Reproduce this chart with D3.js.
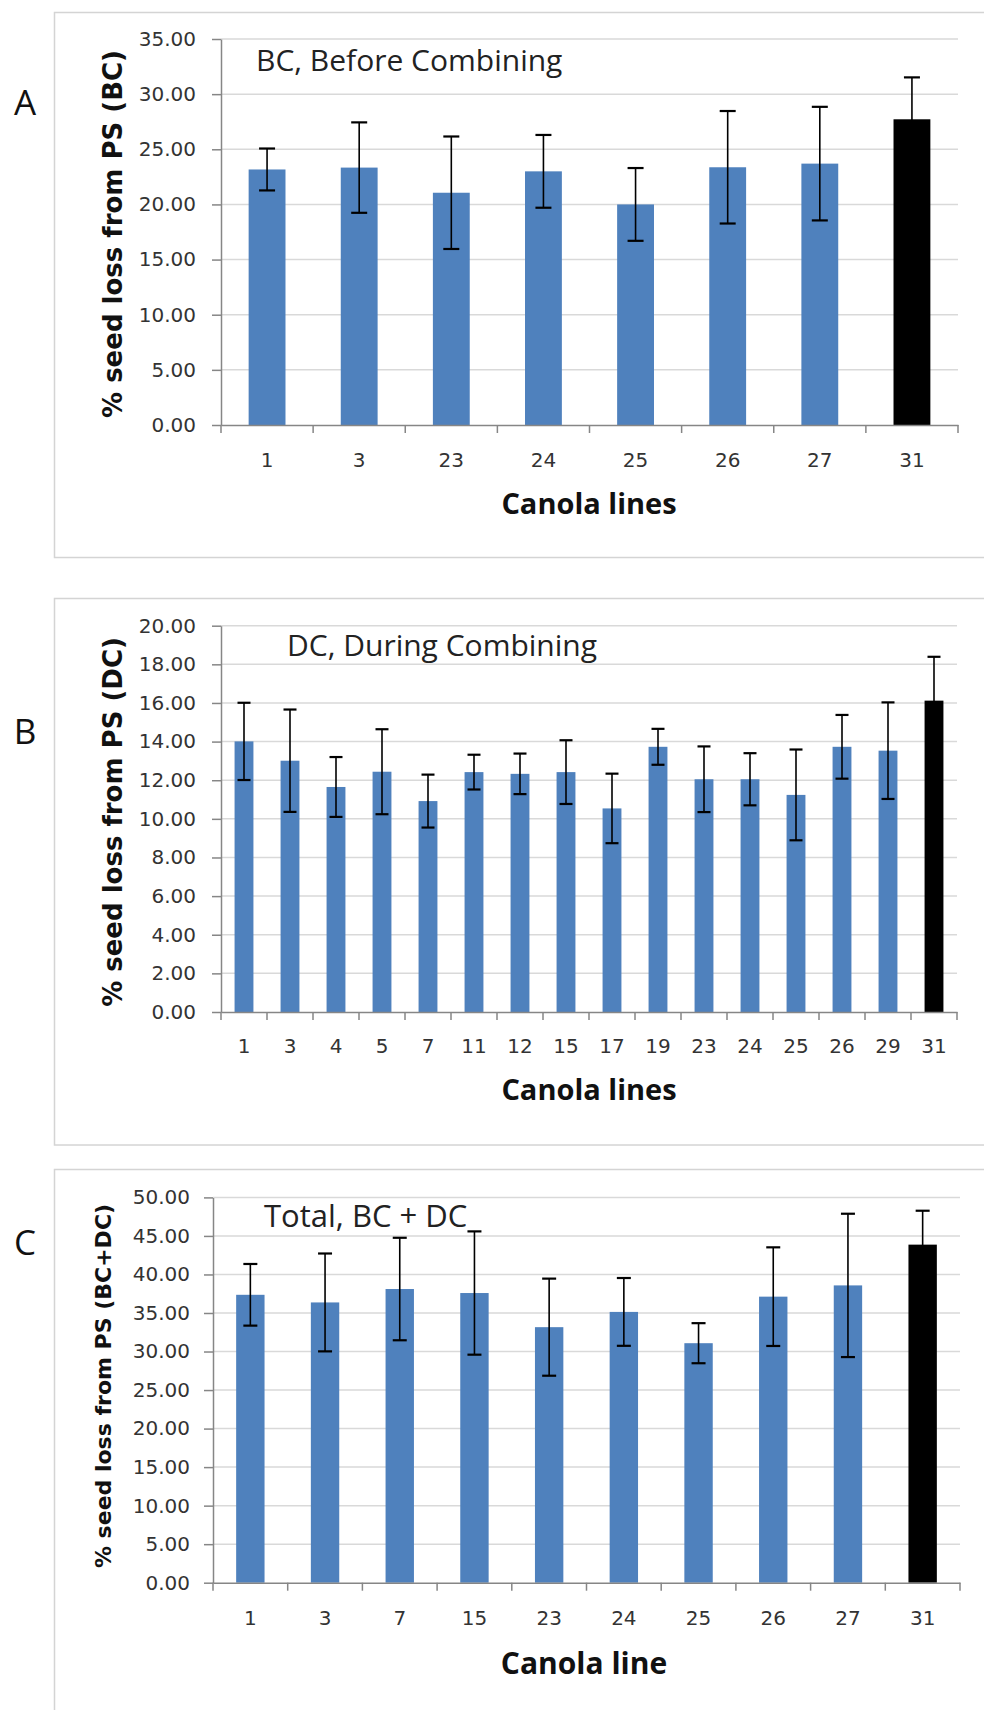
<!DOCTYPE html>
<html lang="en">
<head>
	<meta charset="utf-8">
	<title>Seed loss by canola line</title>
	<script src="https://d3js.org/d3.v7.min.js"></script>
	<style>
		body { margin: 0; background: #fff; }
		svg { display: block; }
		.tick text { font-family: "DejaVu Sans", sans-serif; font-size: 20px; fill: #333; }
	</style>
</head>
<body>
<div id="chart"></div>
<script>
	// Panel A: before combining
	var linesA = ["1", "3", "23", "24", "25", "26", "27", "31"];
	var lossA  = [23.17, 23.34, 21.06, 23.00, 20.00, 23.37, 23.70, 27.72];
	var errA   = [1.90, 4.10, 5.10, 3.30, 3.30, 5.10, 5.15, 3.80];
	var ticksA = [0, 5, 10, 15, 20, 25, 30, 35];

	// Panel B: during combining
	var linesB = ["1", "3", "4", "5", "7", "11", "12", "15", "17", "19", "23", "24", "25", "26", "29", "31"];
	var lossB  = [14.01, 13.01, 11.65, 12.44, 10.92, 12.42, 12.33, 12.42, 10.54, 13.73, 12.05, 12.05, 11.24, 13.73, 13.53, 16.12];
	var errB   = [2.00, 2.65, 1.55, 2.20, 1.37, 0.90, 1.05, 1.65, 1.80, 0.93, 1.70, 1.35, 2.35, 1.65, 2.50, 2.27];
	var ticksB = [0, 2, 4, 6, 8, 10, 12, 14, 16, 18, 20];

	// Panel C: total
	var linesC = ["1", "3", "7", "15", "23", "24", "25", "26", "27", "31"];
	var lossC  = [37.36, 36.37, 38.11, 37.59, 33.16, 35.14, 31.08, 37.12, 38.58, 43.87];
	var errC   = [4.00, 6.35, 6.65, 8.00, 6.30, 4.40, 2.60, 6.40, 9.30, 4.40];
	var ticksC = [0, 5, 10, 15, 20, 25, 30, 35, 40, 45, 50];

	var controlLine = "31";

	var w = 984, h = 1710;
	var svg = d3.select("#chart").append("svg")
		.attr("width", w)
		.attr("height", h);

	function drawPanel(p) {
		var g = svg.append("g");

		// outer frame
		g.append("rect")
			.attr("x", 54.5).attr("y", p.boxTop)
			.attr("width", 960).attr("height", p.boxBottom - p.boxTop)
			.attr("fill", "none")
			.attr("stroke", "#d4d4d4")
			.attr("stroke-width", 1.5);

		var x = d3.scaleBand()
			.domain(p.lines)
			.range([p.left, p.right])
			.padding(0);

		var y = d3.scaleLinear()
			.domain([0, d3.max(p.ticks)])
			.range([p.bottom, p.top]);

		// gridlines
		g.selectAll(".grid")
			.data(p.ticks.slice(1))
			.enter().append("line")
			.attr("x1", p.left).attr("x2", p.right)
			.attr("y1", function(d){ return y(d); })
			.attr("y2", function(d){ return y(d); })
			.attr("stroke", "#d9d9d9")
			.attr("stroke-width", 1.5);

		// y axis
		var yAxis = g.append("g")
			.attr("transform", "translate(" + p.left + ",0)")
			.call(d3.axisLeft(y).tickValues(p.ticks).tickFormat(d3.format(".2f"))
				.tickSize(9).tickPadding(p.yPad).tickSizeOuter(0));
		yAxis.selectAll("line, path").attr("stroke", "#868686").attr("stroke-width", 1.5);

		// bars
		var bw = x.bandwidth() * p.barFrac;
		g.selectAll(".bar")
			.data(p.lines)
			.enter().append("rect")
			.attr("x", function(d){ return x(d) + (x.bandwidth() - bw) / 2; })
			.attr("y", function(d, i){ return y(p.loss[i]); })
			.attr("width", bw)
			.attr("height", function(d, i){ return y(0) - y(p.loss[i]); })
			.attr("fill", function(d){ return d === controlLine ? "#000" : "#4f81bd"; });

		// x axis with ticks at category boundaries
		var xAxis = g.append("g")
			.attr("transform", "translate(0," + p.bottom + ")")
			.call(d3.axisBottom(x).tickSize(0).tickPadding(p.xPad).tickSizeOuter(0));
		xAxis.select("path").attr("stroke", "#868686").attr("stroke-width", 1.5);
		g.selectAll(".xtick")
			.data(d3.range(p.lines.length + 1))
			.enter().append("line")
			.attr("x1", function(i){ return p.left + i * x.step(); })
			.attr("x2", function(i){ return p.left + i * x.step(); })
			.attr("y1", p.bottom)
			.attr("y2", p.bottom + 8)
			.attr("stroke", "#868686")
			.attr("stroke-width", 1.5);

		// error bars
		var cap = p.cap;
		var eb = g.selectAll(".err")
			.data(p.lines)
			.enter().append("g")
			.attr("stroke", "#000")
			.attr("stroke-width", 1.6);
		eb.append("line")
			.attr("x1", function(d){ return x(d) + x.bandwidth() / 2; })
			.attr("x2", function(d){ return x(d) + x.bandwidth() / 2; })
			.attr("y1", function(d, i){ return y(p.loss[i] - p.err[i]); })
			.attr("y2", function(d, i){ return y(p.loss[i] + p.err[i]); });
		eb.append("line")
			.attr("x1", function(d){ return x(d) + x.bandwidth() / 2 - cap; })
			.attr("x2", function(d){ return x(d) + x.bandwidth() / 2 + cap; })
			.attr("y1", function(d, i){ return y(p.loss[i] + p.err[i]); })
			.attr("y2", function(d, i){ return y(p.loss[i] + p.err[i]); })
			.attr("stroke-width", 2.2);
		eb.append("line")
			.attr("x1", function(d){ return x(d) + x.bandwidth() / 2 - cap; })
			.attr("x2", function(d){ return x(d) + x.bandwidth() / 2 + cap; })
			.attr("y1", function(d, i){ return y(p.loss[i] - p.err[i]); })
			.attr("y2", function(d, i){ return y(p.loss[i] - p.err[i]); })
			.attr("stroke-width", 2.2);

		// panel letter
		g.append("text")
			.attr("x", 25).attr("y", p.letterY)
			.attr("text-anchor", "middle")
			.attr("font-family", "'Open Sans', sans-serif")
			.attr("font-size", "35px")
			.attr("fill", "#111")
			.text(p.letter);

		// title inside plot
		g.append("text")
			.attr("x", p.titleX).attr("y", p.titleY)
			.attr("font-family", "'Open Sans', sans-serif")
			.attr("font-size", p.titleSize + "px")
			.attr("fill", "#222")
			.text(p.title);

		// x label
		g.append("text")
			.attr("x", p.xLabelX).attr("y", p.xLabelY)
			.attr("text-anchor", "middle")
			.attr("font-family", "'Open Sans', sans-serif")
			.attr("font-weight", "bold")
			.attr("font-size", p.xLabelSize + "px")
			.attr("fill", "#111")
			.text(p.xLabel);

		// y label
		g.append("text")
			.attr("transform", "translate(" + p.yLabelX + "," + p.yLabelY + ") rotate(-90)")
			.attr("text-anchor", "middle")
			.attr("dominant-baseline", "central")
			.attr("font-family", "'DejaVu Sans', sans-serif")
			.attr("font-weight", "bold")
			.attr("font-size", p.yLabelSize + "px")
			.attr("fill", "#111")
			.text(p.yLabel);
	}

	drawPanel({
		lines: linesA, loss: lossA, err: errA, ticks: ticksA,
		boxTop: 12.5, boxBottom: 557.5,
		left: 221, right: 958, top: 39, bottom: 425,
		yPad: 16, xPad: 28, barFrac: 0.4, cap: 8,
		letter: "A", letterY: 114.5,
		title: "BC, Before Combining", titleX: 256, titleY: 71, titleSize: 30,
		xLabel: "Canola lines", xLabelX: 589, xLabelY: 514, xLabelSize: 29,
		yLabel: "% seed loss from PS (BC)", yLabelX: 113, yLabelY: 234, yLabelSize: 26
	});

	drawPanel({
		lines: linesB, loss: lossB, err: errB, ticks: ticksB,
		boxTop: 598.5, boxBottom: 1145,
		left: 221, right: 957, top: 625.7, bottom: 1012,
		yPad: 16, xPad: 27, barFrac: 0.41, cap: 6.5,
		letter: "B", letterY: 744,
		title: "DC, During Combining", titleX: 287, titleY: 656, titleSize: 30,
		xLabel: "Canola lines", xLabelX: 589, xLabelY: 1100, xLabelSize: 29,
		yLabel: "% seed loss from PS (DC)", yLabelX: 113, yLabelY: 822, yLabelSize: 26
	});

	drawPanel({
		lines: linesC, loss: lossC, err: errC, ticks: ticksC,
		boxTop: 1169.5, boxBottom: 1730,
		left: 213, right: 960, top: 1197.4, bottom: 1582.7,
		yPad: 14, xPad: 28, barFrac: 0.38, cap: 7,
		letter: "C", letterY: 1254.5,
		title: "Total, BC + DC", titleX: 264, titleY: 1227, titleSize: 31,
		xLabel: "Canola line", xLabelX: 584, xLabelY: 1674, xLabelSize: 30,
		yLabel: "% seed loss from PS (BC+DC)", yLabelX: 103.5, yLabelY: 1386, yLabelSize: 22
	});
</script>
</body>
</html>
